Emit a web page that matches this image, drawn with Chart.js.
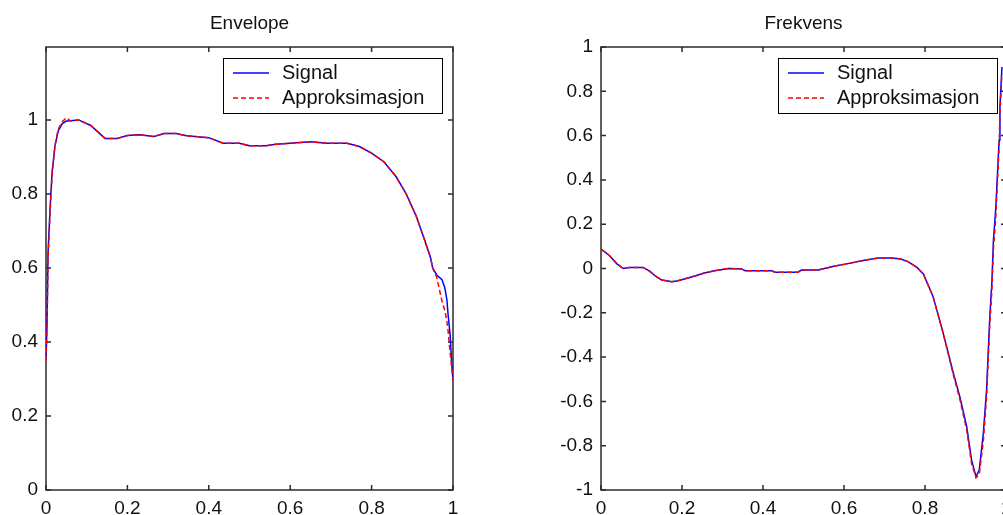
<!DOCTYPE html>
<html>
<head>
<meta charset="utf-8">
<script src="https://cdn.jsdelivr.net/npm/chart.js@4"></script>
<style>
  html, body { margin: 0; padding: 0; background: #fff; overflow: hidden; width: 1003px; height: 515px; }
  #envChart { position: absolute; left: 0; top: 0; }
  #freqChart { position: absolute; left: 500px; top: 0; }
</style>
</head>
<body>
<canvas id="envChart" width="500" height="515"></canvas>
<canvas id="freqChart" width="560" height="515"></canvas>
<script>
// ===============================
// Data
// ===============================
const seriesLabels = ["Signal", "Approksimasjon"];
const xTicks = [0, 0.2, 0.4, 0.6, 0.8, 1];

// --- Envelope
const envX = [0, 0.0025, 0.005, 0.01, 0.015, 0.022, 0.03, 0.04, 0.05, 0.06,
  0.08, 0.11, 0.145, 0.175, 0.2, 0.23, 0.265, 0.29, 0.32, 0.345,
  0.4, 0.435, 0.475, 0.5, 0.54, 0.565, 0.6, 0.65, 0.69, 0.74,
  0.77, 0.8, 0.83, 0.86, 0.885, 0.91, 0.93, 0.945, 0.95, 0.96,
  0.973, 0.98, 0.985, 0.988, 0.993, 0.997, 1.0];
const envSignal = [0.35, 0.45, 0.64, 0.76, 0.86, 0.93, 0.97, 0.99, 0.997, 0.998,
  1.0, 0.985, 0.95, 0.95, 0.958, 0.96, 0.955, 0.963, 0.963, 0.957,
  0.952, 0.937, 0.937, 0.93, 0.93, 0.934, 0.937, 0.941, 0.937, 0.937,
  0.928, 0.91, 0.887, 0.847, 0.80, 0.739, 0.676, 0.627, 0.60, 0.581,
  0.568, 0.546, 0.514, 0.473, 0.419, 0.338, 0.297];
const envApprox = [0.35, 0.44, 0.62, 0.75, 0.85, 0.93, 0.975, 0.995, 1.006, 0.997,
  1.0, 0.985, 0.95, 0.95, 0.958, 0.96, 0.955, 0.963, 0.963, 0.957,
  0.952, 0.937, 0.937, 0.93, 0.93, 0.934, 0.937, 0.941, 0.937, 0.937,
  0.928, 0.91, 0.887, 0.847, 0.80, 0.739, 0.676, 0.627, 0.60, 0.575,
  0.51, 0.485, 0.455, 0.43, 0.37, 0.33, 0.30];
const envYTicks = [0, 0.2, 0.4, 0.6, 0.8, 1];

// --- Frekvens
const freqX = [0, 0.02, 0.04, 0.055, 0.07, 0.085, 0.104, 0.12, 0.135, 0.15,
  0.175, 0.19, 0.21, 0.232, 0.255, 0.281, 0.314, 0.347, 0.356, 0.39,
  0.421, 0.43, 0.46, 0.486, 0.495, 0.536, 0.578, 0.61, 0.644, 0.684,
  0.718, 0.74, 0.758, 0.78, 0.796, 0.82, 0.845, 0.87, 0.886, 0.903,
  0.915, 0.926, 0.934, 0.944, 0.952, 0.96, 0.965, 0.969, 0.975, 0.979,
  0.983, 0.985, 0.99];
const freqSignal = [0.088, 0.06, 0.02, 0.0, 0.005, 0.005, 0.005, -0.012, -0.035, -0.052,
  -0.06, -0.055, -0.045, -0.034, -0.02, -0.01, 0.0, -0.002, -0.01, -0.01,
  -0.01, -0.017, -0.017, -0.017, -0.007, -0.007, 0.011, 0.022, 0.035, 0.047,
  0.047, 0.043, 0.031, 0.005, -0.025, -0.127, -0.293, -0.473, -0.579, -0.714,
  -0.865, -0.94, -0.91, -0.744, -0.549, -0.218, -0.067, 0.129, 0.279, 0.43,
  0.58, 0.73, 0.91];
const freqApprox = [0.088, 0.06, 0.02, 0.0, 0.005, 0.005, 0.005, -0.012, -0.035, -0.052,
  -0.06, -0.055, -0.045, -0.034, -0.02, -0.01, 0.0, -0.002, -0.01, -0.01,
  -0.01, -0.017, -0.017, -0.017, -0.007, -0.007, 0.011, 0.022, 0.035, 0.047,
  0.047, 0.043, 0.031, 0.005, -0.025, -0.127, -0.293, -0.48, -0.59, -0.73,
  -0.88, -0.945, -0.93, -0.78, -0.58, -0.25, -0.1, 0.09, 0.24, 0.40,
  0.55, 0.70, 0.88];
const freqYTicks = [-1, -0.8, -0.6, -0.4, -0.2, 0, 0.2, 0.4, 0.6, 0.8, 1];

// ===============================
// Helpers
// ===============================
const FONT = '"Liberation Sans", Arial, Helvetica, sans-serif';
const toPoints = (xs, ys) => xs.map((x, i) => ({ x, y: ys[i] }));

// MATLAB-ish box, inward ticks and boxed legend
const matlabFrame = {
  id: "matlabFrame",
  beforeDatasetsDraw(chart) {
    const { ctx, chartArea: a, scales } = chart;
    ctx.save();
    ctx.strokeStyle = "#2b2b2b";
    ctx.lineWidth = 1.5;
    ctx.strokeRect(a.left, a.top, a.right - a.left, a.bottom - a.top);
    ctx.beginPath();
    scales.x.ticks.forEach(t => {
      const px = scales.x.getPixelForValue(t.value);
      ctx.moveTo(px, a.bottom); ctx.lineTo(px, a.bottom - 5);
      ctx.moveTo(px, a.top); ctx.lineTo(px, a.top + 5);
    });
    scales.y.ticks.forEach(t => {
      const py = scales.y.getPixelForValue(t.value);
      ctx.moveTo(a.left, py); ctx.lineTo(a.left + 5, py);
      ctx.moveTo(a.right, py); ctx.lineTo(a.right - 5, py);
    });
    ctx.stroke();
    ctx.restore();
  },
  afterDraw(chart, args, opts) {
    const { ctx, chartArea: a } = chart;
    const w = 219, h = 55;
    const x0 = Math.round(a.right - opts.inset - w), y0 = Math.round(a.top + 11);
    ctx.save();
    ctx.fillStyle = "#fff";
    ctx.fillRect(x0, y0, w, h);
    ctx.strokeStyle = "#000";
    ctx.lineWidth = 1;
    ctx.strokeRect(x0 + 0.5, y0 + 0.5, w, h);
    chart.data.datasets.forEach((ds, i) => {
      const cy = y0 + 15 + i * 25;
      ctx.strokeStyle = ds.borderColor;
      ctx.lineWidth = ds.borderWidth;
      ctx.setLineDash(ds.borderDash || []);
      ctx.beginPath();
      ctx.moveTo(x0 + 10, cy);
      ctx.lineTo(x0 + 46, cy);
      ctx.stroke();
      ctx.setLineDash([]);
      ctx.fillStyle = "#111";
      ctx.font = "20px " + FONT;
      ctx.textBaseline = "middle";
      ctx.fillText(ds.label, x0 + 59, cy);
    });
    ctx.restore();
  }
};

function makePanel(canvasId, title, xs, sig, approx, yMin, yMax, yTicks, yAxisWidth, padRight, inset) {
  return new Chart(document.getElementById(canvasId), {
    type: "line",
    data: {
      datasets: [{
        label: seriesLabels[0],
        data: toPoints(xs, sig),
        borderColor: "#0000ff",
        borderWidth: 1.5,
        pointRadius: 0,
        tension: 0,
        order: 2
      }, {
        label: seriesLabels[1],
        data: toPoints(xs, approx),
        borderColor: "#ff0000",
        borderWidth: 1.5,
        borderDash: [5, 3],
        pointRadius: 0,
        tension: 0,
        order: 1
      }]
    },
    options: {
      responsive: false,
      animation: false,
      layout: { padding: { left: 0, right: padRight, top: 0, bottom: 0 } },
      plugins: {
        legend: { display: false },
        tooltip: { enabled: false },
        title: {
          display: true,
          text: title,
          fullSize: false,
          color: "#111",
          font: { family: FONT, size: 19, weight: "normal", lineHeight: "22px" },
          padding: { top: 13, bottom: 12 }
        },
        matlabFrame: { inset }
      },
      scales: {
        x: {
          type: "linear",
          min: 0,
          max: 1,
          grid: { display: false, drawTicks: false },
          border: { display: false },
          afterBuildTicks: s => { s.ticks = xTicks.map(v => ({ value: v })); },
          afterFit: s => { s.height = 25; },
          ticks: {
            autoSkip: false,
            maxRotation: 0,
            padding: 7,
            color: "#111",
            font: { family: FONT, size: 19 },
            callback: v => String(v)
          }
        },
        y: {
          type: "linear",
          min: yMin,
          max: yMax,
          grid: { display: false, drawTicks: false },
          border: { display: false },
          afterBuildTicks: s => { s.ticks = yTicks.map(v => ({ value: v })); },
          afterFit: s => { s.width = yAxisWidth; },
          ticks: {
            autoSkip: false,
            padding: 8,
            color: "#111",
            font: { family: FONT, size: 19 },
            callback: v => String(v)
          }
        }
      }
    },
    plugins: [matlabFrame]
  });
}

makePanel("envChart", "Envelope", envX, envSignal, envApprox, 0, 1.197, envYTicks, 46, 47, 11);
makePanel("freqChart", "Frekvens", freqX, freqSignal, freqApprox, -1, 1, freqYTicks, 101, 54, 9);
</script>
</body>
</html>
